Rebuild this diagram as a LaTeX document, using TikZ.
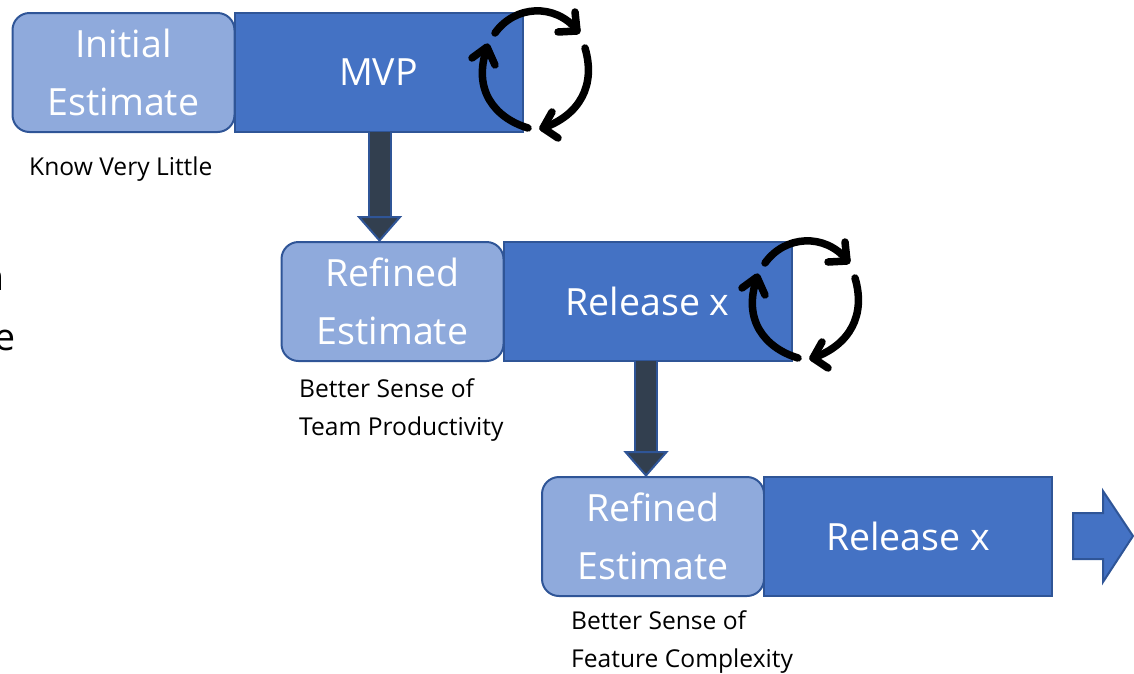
\documentclass[tikz,border=0pt]{standalone}
\usepackage{fontspec}
\setmainfont{Open Sans}
\usetikzlibrary{positioning}
\usetikzlibrary{arrows.meta}
\definecolor{paleblue}{HTML}{8FAADC}
\definecolor{midblue}{HTML}{4472C4}
\definecolor{edgeblue}{HTML}{2F5597}
\definecolor{slateblue}{HTML}{323F4F}

\begin{document}
\begin{tikzpicture}[
    x=1pt, y=-1pt,
    estimate/.style = {draw=edgeblue, line width=2pt, fill=paleblue, rounded corners=17pt,
                minimum width=222pt, minimum height=119pt, inner sep=0pt, outer sep=0pt,
                text=white, align=center, font=\fontsize{37.5}{58}\selectfont},
    stage/.style = {draw=edgeblue, line width=2pt, fill=midblue,
                minimum width=288pt, minimum height=119pt, inner sep=0pt, outer sep=0pt,
                text=white, font=\fontsize{37.5}{42}\selectfont},
    note/.style = {anchor=north west, inner sep=0pt, align=left,
                font=\fontsize{24.6}{38.5}\selectfont},
    cutoff/.style = {anchor=base east, inner sep=0pt, font=\fontsize{37.5}{42}\selectfont},
    godown/.style = {edgeblue, line width=24pt,
                -{Triangle[width=45pt,length=26pt,fill=slateblue,line width=2pt]},
                postaction={draw=slateblue, line width=20pt, -, shorten >=26pt}},
    cycle/.style = {black, line width=7.5pt, line cap=round, line join=round}
                    ]
    \useasboundingbox (0,0) rectangle (1134,673);
    \clip (0,0) rectangle (1134,673);
    % text cut off by the left side
    \node[cutoff] at (5,290) (cutn) {n};
    \node[cutoff] at (16,350) (cute) {e};
    % the three rows
    \node[estimate] at (123.5,72.5) (initial) {Initial\\Estimate};
    \node[stage,right=0pt of initial] (mvp) {MVP};
    \node[estimate] at (392.5,301.5) (refinedA) {Refined\\Estimate};
    \node[stage,right=0pt of refinedA] (releaseA) {Release x};
    \node[estimate] at (653,536.5) (refinedB) {Refined\\Estimate};
    \node[stage,right=0pt of refinedB] (releaseB) {Release x};
    \node[note] at (29,157) (noteA) {Know Very Little};
    \node[note] at (299,378) (noteB) {Better Sense of\\Team Productivity};
    \node[note] at (571,610) (noteC) {Better Sense of\\Feature Complexity};
    % arrows between rows
    \draw[godown] ([xshift=1pt]mvp.south) -- ([xshift=1pt]mvp.south |- refinedA.north);
    \draw[godown] ([xshift=-1.5pt]releaseA.south) -- ([xshift=-1.5pt]releaseA.south |- refinedB.north);
    % arrow on the right
    \draw[edgeblue, line width=2pt, fill=midblue] (1073,513) -- (1103,513) -- (1103,491)
        -- (1133,536) -- (1103,582) -- (1103,559) -- (1073,559) -- cycle;
    % loops
    \foreach \ox/\oy in {0/0,270/230} {
        \begin{scope}[shift={(\ox,\oy)}]
            \draw[cycle] (495,33) .. controls (515,5) and (555,3) .. (577,30);
            \draw[cycle] (558,32) -- (577,31) -- (575,12);
            \draw[cycle] (585,48) .. controls (596,85) and (580,115) .. (543,128);
            \draw[cycle] (552,112) -- (543,128) -- (558,138);
            \draw[cycle] (528,128) .. controls (495,118) and (472,90) .. (487,48);
            \draw[cycle] (472,58) -- (487,47) -- (495,65);
        \end{scope}
    }
\end{tikzpicture}
\end{document}
